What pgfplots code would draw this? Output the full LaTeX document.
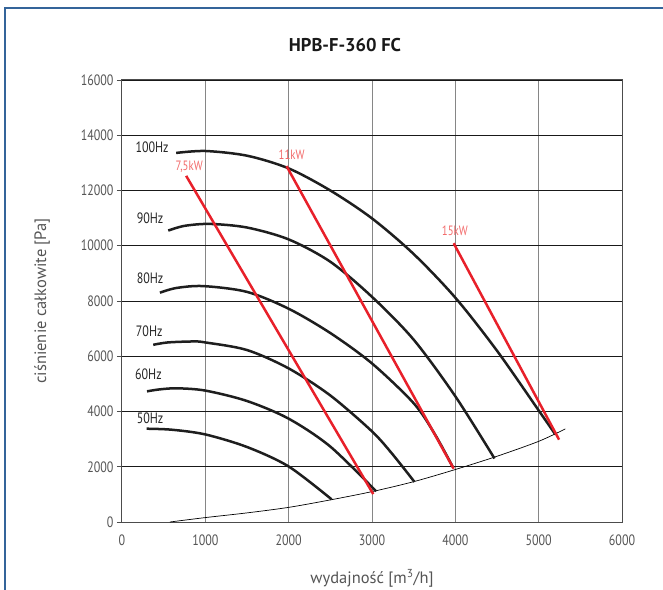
\documentclass[border=0pt]{standalone}
\usepackage{fontspec}
\setmainfont{PT Sans}
\newfontfamily\narrow{PT Sans}[FakeStretch=0.8]
\usepackage{pgfplots}
\pgfplotsset{compat=1.18}
\definecolor{frameblue}{HTML}{34649A}
\definecolor{redline}{HTML}{E8202A}
\definecolor{redlabel}{HTML}{F26B6B}
\definecolor{ticklab}{HTML}{555555}
\definecolor{curve}{HTML}{1E1E1E}
\begin{document}
\begin{tikzpicture}[x=1pt,y=1pt]
\path[use as bounding box] (-122,-67) rectangle (541,522);
\draw[frameblue, line width=1.5pt] (-117,-75) -- (-117,514) -- (550,514);
\begin{axis}[
  at={(0,0)}, anchor=south west,
  width=500pt, height=442pt, scale only axis,
  xmin=0, xmax=6000, ymin=0, ymax=16000,
  xtick={0,1000,...,6000}, ytick={0,2000,...,16000},
  scaled ticks=false,
  grid=major,
  x grid style={gray!95, line width=1pt},
  y grid style={black!90, line width=0.8pt},
  axis line style={black!70, line width=1pt},
  tick align=outside, ytick pos=left, xtick pos=bottom,
  xtick style={draw=none},
  ytick style={black!70, line width=0.8pt},
  major tick length=5pt,
  /pgf/number format/assume math mode=true,
  /pgf/number format/1000 sep={},
  ticklabel style={font=\narrow\fontsize{15}{15}\selectfont, text=ticklab},
  xticklabel style={yshift=-4pt},
  xlabel={wydajność [m\textsuperscript{3}/h]},
  ylabel={ciśnienie całkowite [Pa]},
  every axis x label/.style={at={(axis description cs:0.5,-0.127)}, anchor=center, font=\fontsize{16.5}{16.5}\selectfont, text=ticklab},
  every axis y label/.style={at={(axis description cs:-0.16,0.5)}, rotate=90, anchor=center, font=\fontsize{16.5}{16.5}\selectfont, text=ticklab},
  title={HPB-F-360 FC},
  title style={at={(axis description cs:0.446,1.066)}, anchor=center, font=\bfseries\fontsize{18.5}{18.5}\selectfont, text=black!90},
]
% system curve
\addplot[black, line width=0.7pt, smooth] coordinates {
(575,0) (1000,160) (1500,330) (2000,530) (2500,800) (3000,1100) (3500,1460) (4000,1900) (4500,2380) (5000,2920) (5320,3370)};
% 100 Hz
\addplot[curve, line width=2.5pt, smooth] coordinates {
(650,13360) (1000,13430) (1500,13260) (2000,12800) (2500,12000) (3000,10990) (3500,9700) (4000,8120) (4500,6200) (5000,4040) (5200,3170)};
% 90 Hz
\addplot[curve, line width=2.5pt, smooth] coordinates {
(555,10550) (750,10720) (1054,10790) (1500,10660) (2000,10230) (2500,9420) (3000,8150) (3500,6600) (4000,4550) (4470,2300)};
% 80 Hz
\addplot[curve, line width=2.5pt, smooth] coordinates {
(455,8300) (650,8470) (974,8540) (1500,8330) (2000,7720) (2500,6840) (3000,5740) (3500,4300) (3750,3200) (3970,1990)};
% 70 Hz
\addplot[curve, line width=2.5pt, smooth] coordinates {
(375,6415) (550,6500) (855,6535) (1000,6500) (1500,6225) (2000,5560) (2500,4580) (3000,3280) (3250,2440) (3510,1450)};
% 60 Hz
\addplot[curve, line width=2.5pt, smooth] coordinates {
(300,4730) (450,4800) (659,4840) (1000,4757) (1500,4380) (2000,3740) (2500,2730) (3050,1110)};
% 50 Hz
\addplot[curve, line width=2.5pt, smooth] coordinates {
(296,3377) (600,3340) (1000,3170) (1500,2715) (2000,2010) (2515,820)};
% power lines
\addplot[redline, line width=2.5pt] coordinates {(770,12530) (3015,1010)};
\addplot[redline, line width=2.5pt] coordinates {(1975,12880) (3980,1930)};
\addplot[redline, line width=2.5pt] coordinates {(3980,10090) (5245,2980)};
% labels
\node[anchor=west, inner sep=0pt, text=black!85, font=\narrow\fontsize{15}{15}\selectfont] at (axis cs:160,13575) {100Hz};
\node[anchor=west, inner sep=0pt, text=black!85, font=\narrow\fontsize{15}{15}\selectfont] at (axis cs:175,11000) {90Hz};
\node[anchor=west, inner sep=0pt, text=black!85, font=\narrow\fontsize{15}{15}\selectfont] at (axis cs:175,8830) {80Hz};
\node[anchor=west, inner sep=0pt, text=black!85, font=\narrow\fontsize{15}{15}\selectfont] at (axis cs:165,6910) {70Hz};
\node[anchor=west, inner sep=0pt, text=black!85, font=\narrow\fontsize{15}{15}\selectfont] at (axis cs:155,5350) {60Hz};
\node[anchor=west, inner sep=0pt, text=black!85, font=\narrow\fontsize{15}{15}\selectfont] at (axis cs:175,3750) {50Hz};
\node[text=redlabel, inner sep=0pt, font=\narrow\fontsize{13.5}{13.5}\selectfont] at (axis cs:806,12855) {7,5kW};
\node[text=redlabel, inner sep=0pt, font=\narrow\fontsize{13.5}{13.5}\selectfont] at (axis cs:2036,13306) {11kW};
\node[text=redlabel, inner sep=0pt, font=\narrow\fontsize{13.5}{13.5}\selectfont] at (axis cs:3995,10553) {15kW};
\end{axis}
\end{tikzpicture}
\end{document}
